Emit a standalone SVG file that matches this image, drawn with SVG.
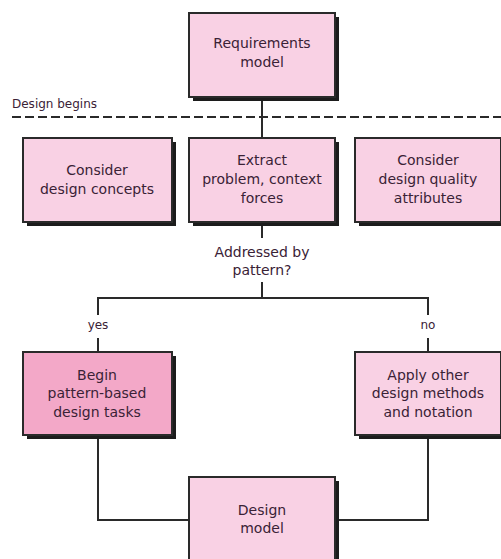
<svg xmlns="http://www.w3.org/2000/svg" width="501" height="559" viewBox="0 0 501 559">
<defs>
<style>
.box{fill:#f9d1e4;stroke:#2a2a2a;stroke-width:2}
.dark{fill:#f3a8c8}
.sh{fill:#1c1c1c}
.t{font-family:"DejaVu Sans",sans-serif;font-size:14px;fill:#3a2236;text-anchor:middle}
.lbl{font-family:"DejaVu Sans",sans-serif;font-size:12px;fill:#3a2236}
.ln{fill:none;stroke:#2a2a2a;stroke-width:2}
</style>
</defs>
<rect width="501" height="559" fill="#ffffff"/>
<g id="connectors">
<path class="ln" d="M262 97V138"/>
<path class="ln" d="M262 226V238"/>
<path class="ln" d="M262 282V298M98 315V298H428V315"/>
<path class="ln" d="M98 338V352M428 338V352"/>
<path class="ln" d="M98 439V520H189M428 439V520H339"/>
<path d="M12 117H501" fill="none" stroke="#2a2a2a" stroke-width="2" stroke-dasharray="9 4"/>
<text class="lbl" x="12" y="108">Design begins</text>
<text class="lbl" x="98" y="329" text-anchor="middle">yes</text>
<text class="lbl" x="428" y="329" text-anchor="middle">no</text>
</g>
<g id="requirements">
<rect class="sh" x="193" y="17" width="146" height="84"/>
<rect class="box" x="189" y="13" width="146" height="84"/>
<text class="t" x="262" y="48">Requirements</text>
<text class="t" x="262" y="67">model</text>
</g>
<g id="consider-concepts">
<rect class="sh" x="27" y="142" width="149" height="84"/>
<rect class="box" x="23" y="138" width="149" height="84"/>
<text class="t" x="97" y="175">Consider</text>
<text class="t" x="97" y="194">design concepts</text>
</g>
<g id="extract">
<rect class="sh" x="193" y="142" width="146" height="84"/>
<rect class="box" x="189" y="138" width="146" height="84"/>
<text class="t" x="262" y="165">Extract</text>
<text class="t" x="262" y="184">problem, context</text>
<text class="t" x="262" y="203">forces</text>
</g>
<g id="consider-quality">
<rect class="sh" x="359" y="142" width="146" height="84"/>
<rect class="box" x="355" y="138" width="146" height="84"/>
<text class="t" x="428" y="165">Consider</text>
<text class="t" x="428" y="184">design quality</text>
<text class="t" x="428" y="203">attributes</text>
</g>
<g id="decision">
<text class="t" x="262" y="257">Addressed by</text>
<text class="t" x="262" y="275">pattern?</text>
</g>
<g id="begin-pattern">
<rect class="sh" x="27" y="356" width="149" height="83"/>
<rect class="box dark" x="23" y="352" width="149" height="83"/>
<text class="t" x="97" y="380">Begin</text>
<text class="t" x="97" y="398">pattern-based</text>
<text class="t" x="97" y="417">design tasks</text>
</g>
<g id="apply-other">
<rect class="sh" x="359" y="356" width="146" height="83"/>
<rect class="box" x="355" y="352" width="146" height="83"/>
<text class="t" x="428" y="380">Apply other</text>
<text class="t" x="428" y="398">design methods</text>
<text class="t" x="428" y="417">and notation</text>
</g>
<g id="design-model">
<rect class="sh" x="193" y="481" width="146" height="90"/>
<rect class="box" x="189" y="477" width="146" height="90"/>
<text class="t" x="262" y="515">Design</text>
<text class="t" x="262" y="533">model</text>
</g>
</svg>
